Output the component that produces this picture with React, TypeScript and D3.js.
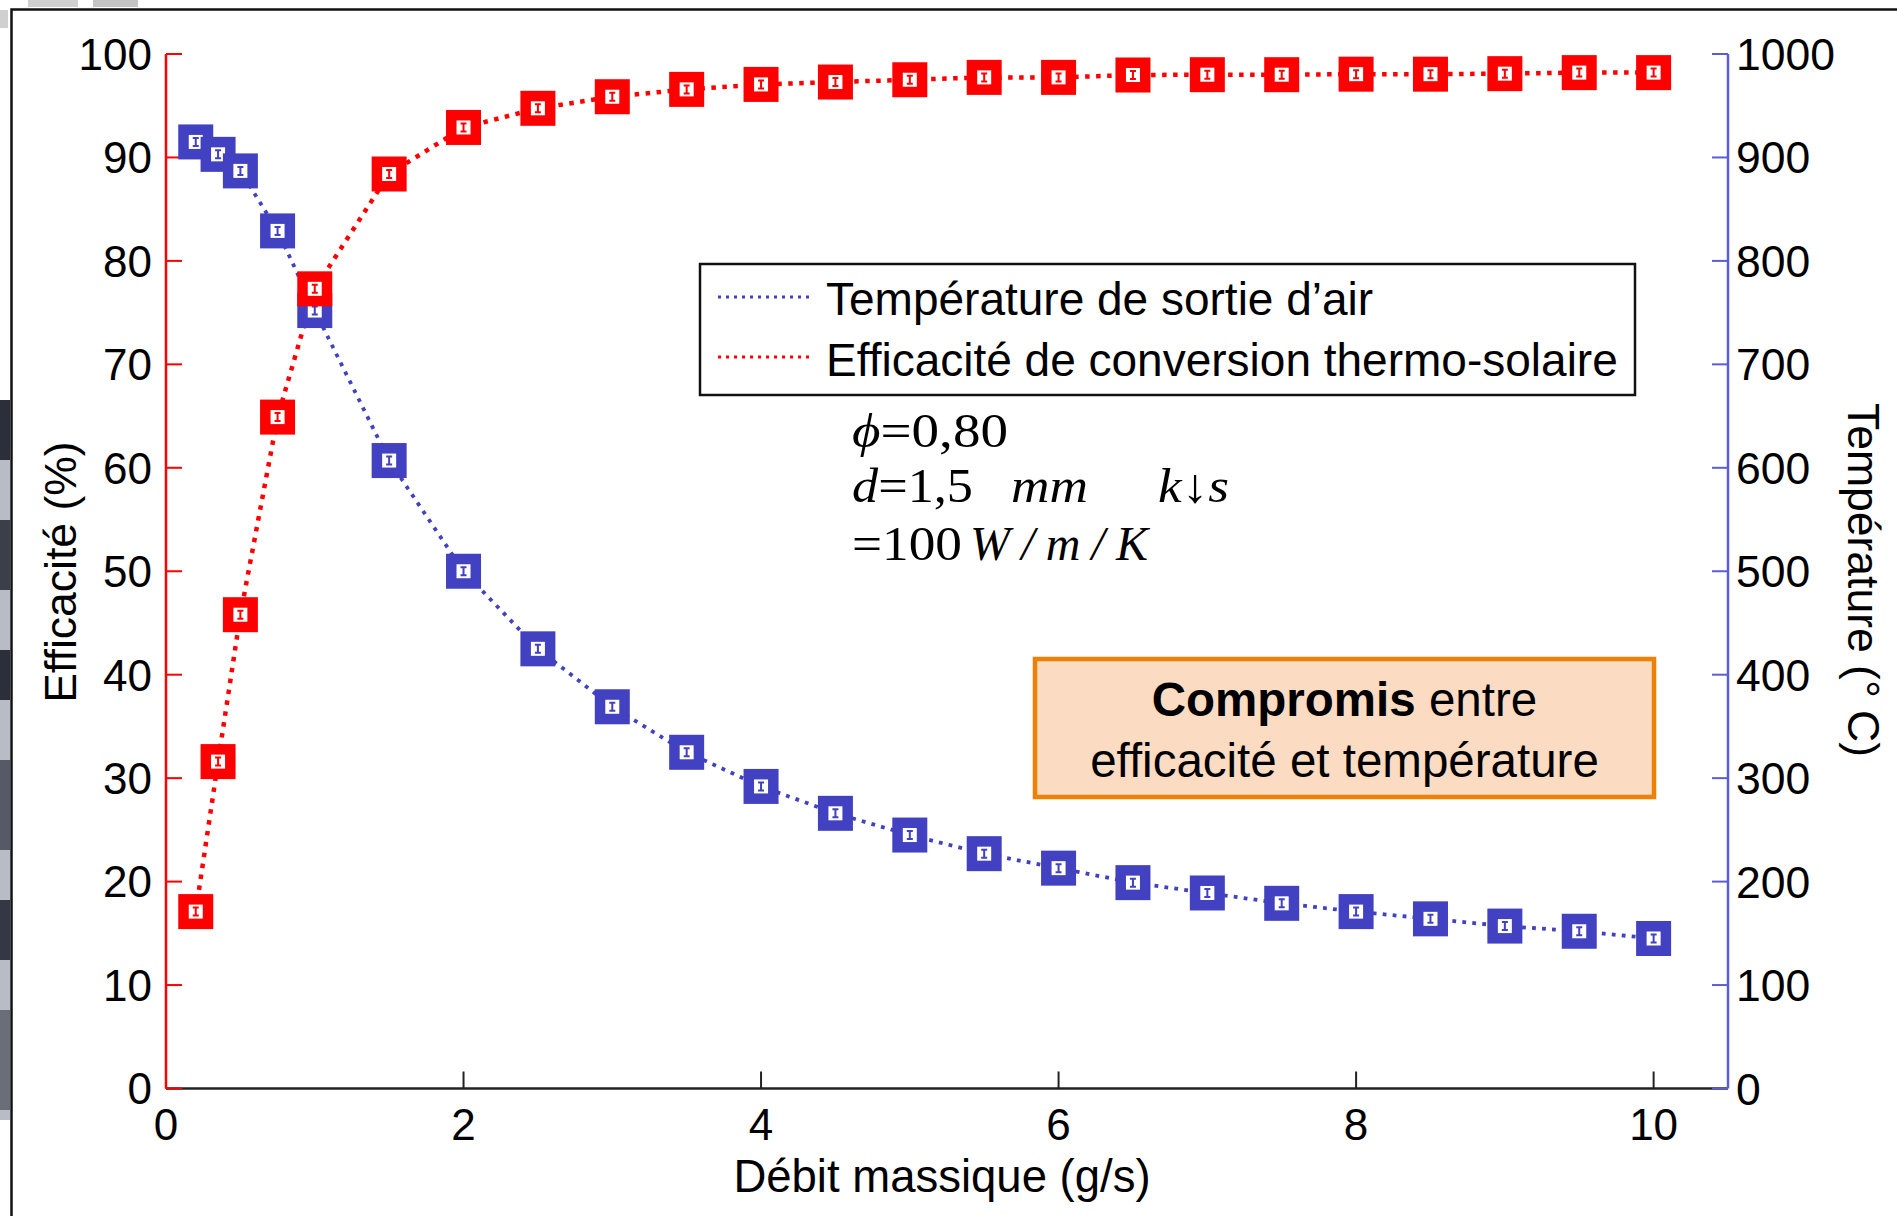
import React from "react";
import * as d3 from "d3";

// ---- data ----
const flowRates = [0.2, 0.35, 0.5, 0.75, 1, 1.5, 2, 2.5, 3, 3.5, 4, 4.5, 5, 5.5, 6, 6.5, 7, 7.5, 8, 8.5, 9, 9.5, 10];
const temperature = [915, 903, 887, 829, 752, 607, 500, 425, 369, 325, 292, 266, 245, 227, 213, 199, 189, 179, 171, 164, 157, 152, 145];
const efficiency = [17.1, 31.6, 45.8, 64.9, 77.3, 88.4, 92.9, 94.75, 95.87, 96.58, 97.06, 97.29, 97.51, 97.74, 97.74, 97.97, 98.0, 98.0, 98.05, 98.05, 98.1, 98.2, 98.2];
const xTicks = [0, 2, 4, 6, 8, 10];
const leftTicks = [0, 10, 20, 30, 40, 50, 60, 70, 80, 90, 100];
const rightTicks = [0, 100, 200, 300, 400, 500, 600, 700, 800, 900, 1000];
const legendLabels = ["Température de sortie d\u2019air", "Efficacité de conversion thermo-solaire"];

const W = 1897;
const H = 1216;
const RED = "#ff0000";
const BLUE = "#4141c1";
const RIGHT_AXIS = "#5c5cd8";
const SANS = "'Liberation Sans', Arial, sans-serif";
const SERIF = "'Liberation Serif', 'Times New Roman', serif";

const x = d3.scaleLinear().domain([0, 10.5]).range([166, 1728]);
const yL = d3.scaleLinear().domain([0, 100]).range([1088.5, 54]);
const yR = d3.scaleLinear().domain([0, 1000]).range([1088.5, 54]);

function Marker({ cx, cy, color }: { cx: number; cy: number; color: string }) {
  const s = 35;
  const inner = 14;
  return (
    <g>
      <rect x={cx - s / 2} y={cy - s / 2} width={s} height={s} fill={color} />
      <rect x={cx - inner / 2} y={cy - inner / 2} width={inner} height={inner} fill="#fff" />
      <path
        d={`M${cx - 3},${cy - 4}H${cx + 3}M${cx},${cy - 4}V${cy + 4}M${cx - 3},${cy + 4}H${cx + 3}`}
        stroke={color}
        strokeWidth={2}
        fill="none"
      />
    </g>
  );
}

export default function App() {
  const redLine = d3
    .line<number>()
    .x((_, i) => x(flowRates[i]))
    .y((d) => yL(d))(efficiency) as string;
  const blueLine = d3
    .line<number>()
    .x((_, i) => x(flowRates[i]))
    .y((d) => yR(d))(temperature) as string;

  return (
    <div style={{ position: "absolute", left: 0, top: 0 }}>
      <svg width={W} height={H} viewBox={`0 0 ${W} ${H}`} style={{ display: "block", background: "#fff" }}>
        {/* background photo fragments outside the frame */}
        <rect x={0} y={0} width={W} height={H} fill="#fff" />
        <rect x={28} y={0} width={50} height={7} fill="#cfcfcf" />
        <rect x={93} y={0} width={45} height={7} fill="#c4c4c4" />
        <rect x={0} y={10} width={8} height={18} fill="#d0d0d0" />
        <rect x={0} y={400} width={10} height={720} fill="#b8bcc4" />
        <rect x={0} y={400} width={10} height={60} fill="#2a2f3a" />
        <rect x={0} y={520} width={10} height={70} fill="#3a3f4a" />
        <rect x={0} y={650} width={10} height={50} fill="#2a2f3a" />
        <rect x={0} y={760} width={10} height={90} fill="#555a66" />
        <rect x={0} y={900} width={10} height={60} fill="#333844" />
        <rect x={0} y={1010} width={10} height={100} fill="#6a6e78" />
        {/* outer frame */}
        <path d={`M11.5,${H}V9.5H${W}`} fill="none" stroke="#111" strokeWidth={2.5} />

        {/* x axis */}
        <line x1={x(0)} x2={1728} y1={yL(0)} y2={yL(0)} stroke="#222" strokeWidth={2.5} />
        {xTicks.map((t) => (
          <g key={"xt" + t}>
            <line x1={x(t)} x2={x(t)} y1={yL(0)} y2={yL(0) - 17} stroke="#222" strokeWidth={2} />
            <text x={x(t)} y={1140} textAnchor="middle" fontFamily={SANS} fontSize={44} fill="#000">
              {t}
            </text>
          </g>
        ))}
        <text x={942} y={1192} textAnchor="middle" fontFamily={SANS} fontSize={45.5} fill="#000">
          Débit massique (g/s)
        </text>

        {/* left axis */}
        <line x1={x(0)} x2={x(0)} y1={yL(0)} y2={yL(100)} stroke={RED} strokeWidth={2.5} />
        {leftTicks.map((t) => (
          <g key={"lt" + t}>
            <line x1={x(0)} x2={x(0) + 16} y1={yL(t)} y2={yL(t)} stroke={RED} strokeWidth={2} />
            <text x={152} y={yL(t)} dy="0.36em" textAnchor="end" fontFamily={SANS} fontSize={44} fill="#000">
              {t}
            </text>
          </g>
        ))}
        <text transform="translate(76,572) rotate(-90)" textAnchor="middle" fontFamily={SANS} fontSize={44.5} fill="#000">
          Efficacité (%)
        </text>

        {/* right axis */}
        <line x1={1728} x2={1728} y1={yR(0)} y2={yR(1000)} stroke={RIGHT_AXIS} strokeWidth={2.5} />
        {rightTicks.map((t) => (
          <g key={"rt" + t}>
            <line x1={1728} x2={1712} y1={yR(t)} y2={yR(t)} stroke={RIGHT_AXIS} strokeWidth={2} />
            <text x={1736} y={yR(t)} dy="0.36em" textAnchor="start" fontFamily={SANS} fontSize={44.5} fill="#000">
              {t}
            </text>
          </g>
        ))}
        <text transform="translate(1848,580) rotate(90)" textAnchor="middle" fontFamily={SANS} fontSize={44.5} fill="#000">
          Température (° C)
        </text>

        {/* series lines */}
        <path d={blueLine} fill="none" stroke={BLUE} strokeWidth={3.8} strokeDasharray="3.8 6.2" />
        <path d={redLine} fill="none" stroke={RED} strokeWidth={4.5} strokeDasharray="4.5 6.5" />

        {/* markers */}
        {temperature.map((v, i) => (
          <Marker key={"b" + i} cx={x(flowRates[i])} cy={yR(v)} color={BLUE} />
        ))}
        {efficiency.map((v, i) => (
          <Marker key={"r" + i} cx={x(flowRates[i])} cy={yL(v)} color={RED} />
        ))}

        {/* legend */}
        <rect x={700} y={264} width={935} height={131} fill="#fff" stroke="#111" strokeWidth={2.5} />
        <line x1={718} x2={810} y1={297} y2={297} stroke={BLUE} strokeWidth={3} strokeDasharray="3 5" />
        <line x1={718} x2={810} y1={357} y2={357} stroke={RED} strokeWidth={3} strokeDasharray="3 5" />
        <text x={826} y={315} fontFamily={SANS} fontSize={46} fill="#000">
          {legendLabels[0]}
        </text>
        <text x={826} y={376} fontFamily={SANS} fontSize={46} fill="#000">
          {legendLabels[1]}
        </text>

        {/* parameter annotation */}
        <text x={852} y={447} fontFamily={SERIF} fontSize={48} fill="#000" textLength={156} lengthAdjust="spacingAndGlyphs">
          <tspan fontStyle="italic">ϕ</tspan>
          <tspan>=0,80</tspan>
        </text>
        <text x={852} y={502} fontFamily={SERIF} fontSize={48} fill="#000" textLength={121} lengthAdjust="spacingAndGlyphs">
          <tspan fontStyle="italic">d</tspan>
          <tspan>=1,5</tspan>
        </text>
        <text x={1011} y={502} fontFamily={SERIF} fontSize={48} fontStyle="italic" fill="#000" textLength={77} lengthAdjust="spacingAndGlyphs">
          mm
        </text>
        <text x={1158} y={502} fontFamily={SERIF} fontSize={48} fontStyle="italic" fill="#000" textLength={71} lengthAdjust="spacingAndGlyphs">
          k↓s
        </text>
        <text x={852} y={560} fontFamily={SERIF} fontSize={48} fill="#000" textLength={110} lengthAdjust="spacingAndGlyphs">
          =100
        </text>
        <text x={970} y={560} fontFamily={SERIF} fontSize={48} fontStyle="italic" fill="#000" textLength={178} lengthAdjust="spacing">
          W/m/K
        </text>

        {/* compromise box */}
        <rect x={1035} y={659} width={619} height={138} fill="#fbdcc2" stroke="#ee8104" strokeWidth={4.5} />
        <text x={1344.5} y={716} textAnchor="middle" fontFamily={SANS} fontSize={47.5} fill="#000">
          <tspan fontWeight="bold">Compromis</tspan>
          <tspan> entre</tspan>
        </text>
        <text x={1344.5} y={777} textAnchor="middle" fontFamily={SANS} fontSize={47.5} fill="#000">
          efficacité et température
        </text>
      </svg>
    </div>
  );
}
